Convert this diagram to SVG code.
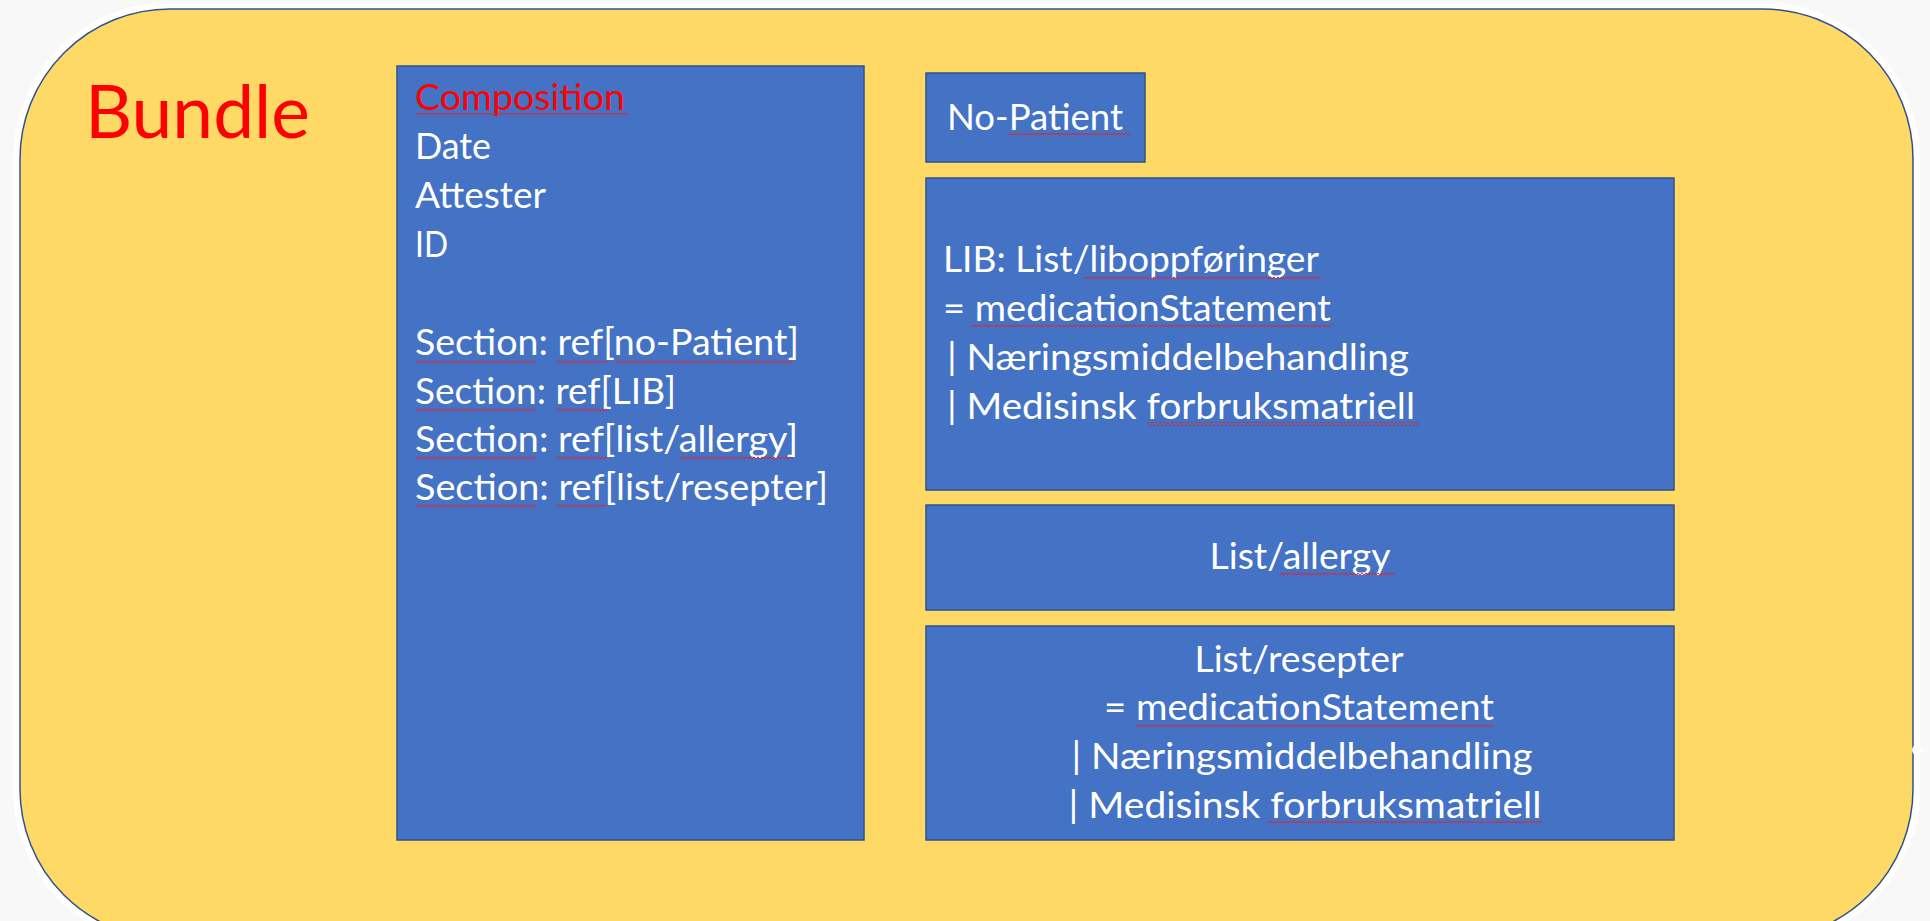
<svg xmlns="http://www.w3.org/2000/svg" width="1930" height="921" viewBox="0 0 1930 921">
  <style>
    .box { fill: #4472C4; stroke: #2F528F; stroke-width: 1.5; }
    .t { font-family: Lato, "Open Sans", "Liberation Sans", sans-serif; font-size: 36px; fill: #FFFFFF; }
    .red { fill: #FF0000; }
    .mid { text-anchor: middle; }
    .sq { fill: url(#squiggle); }
  </style>
  <defs>
    <!-- wavy spell-check underline -->
    <pattern id="squiggle" x="0" y="0" width="4" height="4" patternUnits="userSpaceOnUse">
      <polyline points="0,3.2 2,0.8 4,3.2" fill="none" stroke="#E0222E" stroke-width="1"/>
    </pattern>
  </defs>

  <!-- page background -->
  <rect x="0" y="0" width="1930" height="921" fill="#F8F8F8"/>

  <!-- Bundle container -->
  <g id="bundle">
    <rect x="20" y="9" width="1893" height="930" rx="150" ry="150" fill="none" stroke="#FFFFFF" stroke-width="14"/>
    <rect x="20" y="9" width="1893" height="930" rx="150" ry="150" fill="#FFD966" stroke="#2F528F" stroke-width="1.5"/>
    <circle cx="1917" cy="750" r="5" fill="#FFFFFF"/>
    <text class="t red" x="85" y="138" style="font-size:74px" textLength="225" lengthAdjust="spacingAndGlyphs">Bundle</text>
  </g>

  <!-- Composition resource -->
  <g id="composition">
    <rect class="box" x="397" y="66" width="467" height="774"/>
    <text class="t red" x="415" y="110" textLength="210" lengthAdjust="spacingAndGlyphs">Composition</text>
    <text class="t" x="415" y="159" textLength="76" lengthAdjust="spacingAndGlyphs">Date</text>
    <text class="t" x="415" y="208" textLength="131" lengthAdjust="spacingAndGlyphs">Attester</text>
    <text class="t" x="415" y="257" textLength="33" lengthAdjust="spacingAndGlyphs">ID</text>
    <text class="t" x="415" y="355" textLength="384" lengthAdjust="spacingAndGlyphs">Section: ref[no-Patient]</text>
    <text class="t" x="415" y="404" textLength="261" lengthAdjust="spacingAndGlyphs">Section: ref[LIB]</text>
    <text class="t" x="415" y="452" textLength="383" lengthAdjust="spacingAndGlyphs">Section: ref[list/allergy]</text>
    <text class="t" x="415" y="500" textLength="413" lengthAdjust="spacingAndGlyphs">Section: ref[list/resepter]</text>
    <rect class="sq" x="415" y="113" width="214" height="4"/>
    <rect class="sq" x="415" y="359" width="121" height="4"/>
    <rect class="sq" x="557" y="359" width="50" height="4"/>
    <rect class="sq" x="615" y="359" width="178" height="4"/>
    <rect class="sq" x="415" y="408" width="121" height="4"/>
    <rect class="sq" x="557" y="408" width="50" height="4"/>
    <rect class="sq" x="415" y="456" width="121" height="4"/>
    <rect class="sq" x="557" y="456" width="50" height="4"/>
    <rect class="sq" x="679" y="456" width="114" height="4"/>
    <rect class="sq" x="415" y="504" width="121" height="4"/>
    <rect class="sq" x="557" y="504" width="50" height="4"/>
  </g>

  <!-- Patient resource -->
  <g id="no-patient">
    <rect class="box" x="926" y="73" width="219" height="89"/>
    <text class="t" x="947" y="130" textLength="176" lengthAdjust="spacingAndGlyphs">No-Patient</text>
    <rect class="sq" x="1007" y="133" width="123" height="4"/>
  </g>

  <!-- LIB list -->
  <g id="lib">
    <rect class="box" x="926" y="178" width="748" height="312"/>
    <text class="t" x="943" y="272" textLength="376" lengthAdjust="spacingAndGlyphs">LIB: List/liboppføringer</text>
    <text class="t" x="943" y="321" textLength="388" lengthAdjust="spacingAndGlyphs">= medicationStatement</text>
    <text class="t" x="947" y="370" textLength="462" lengthAdjust="spacingAndGlyphs">| Næringsmiddelbehandling</text>
    <text class="t" x="947" y="419" textLength="468" lengthAdjust="spacingAndGlyphs">| Medisinsk forbruksmatriell</text>
    <rect class="sq" x="1084" y="275" width="237" height="4"/>
    <rect class="sq" x="971" y="324" width="360" height="4"/>
    <rect class="sq" x="1147" y="422" width="273" height="4"/>
  </g>

  <!-- Allergy list -->
  <g id="allergy">
    <rect class="box" x="926" y="505" width="748" height="105"/>
    <text class="t mid" x="1300" y="569" textLength="181" lengthAdjust="spacingAndGlyphs">List/allergy</text>
    <rect class="sq" x="1280" y="572" width="115" height="4"/>
  </g>

  <!-- Prescription list -->
  <g id="resepter">
    <rect class="box" x="926" y="626" width="748" height="214"/>
    <text class="t mid" x="1299" y="672" textLength="209" lengthAdjust="spacingAndGlyphs">List/resepter</text>
    <text class="t mid" x="1299" y="720" textLength="390" lengthAdjust="spacingAndGlyphs">= medicationStatement</text>
    <text class="t mid" x="1302" y="769" textLength="461" lengthAdjust="spacingAndGlyphs">| Næringsmiddelbehandling</text>
    <text class="t mid" x="1305" y="818" textLength="473" lengthAdjust="spacingAndGlyphs">| Medisinsk forbruksmatriell</text>
    <rect class="sq" x="1135" y="723" width="359" height="4"/>
    <rect class="sq" x="1268" y="821" width="274" height="4"/>
  </g>

  <!-- no connectors in this diagram -->
  <g id="connectors"/>
</svg>
